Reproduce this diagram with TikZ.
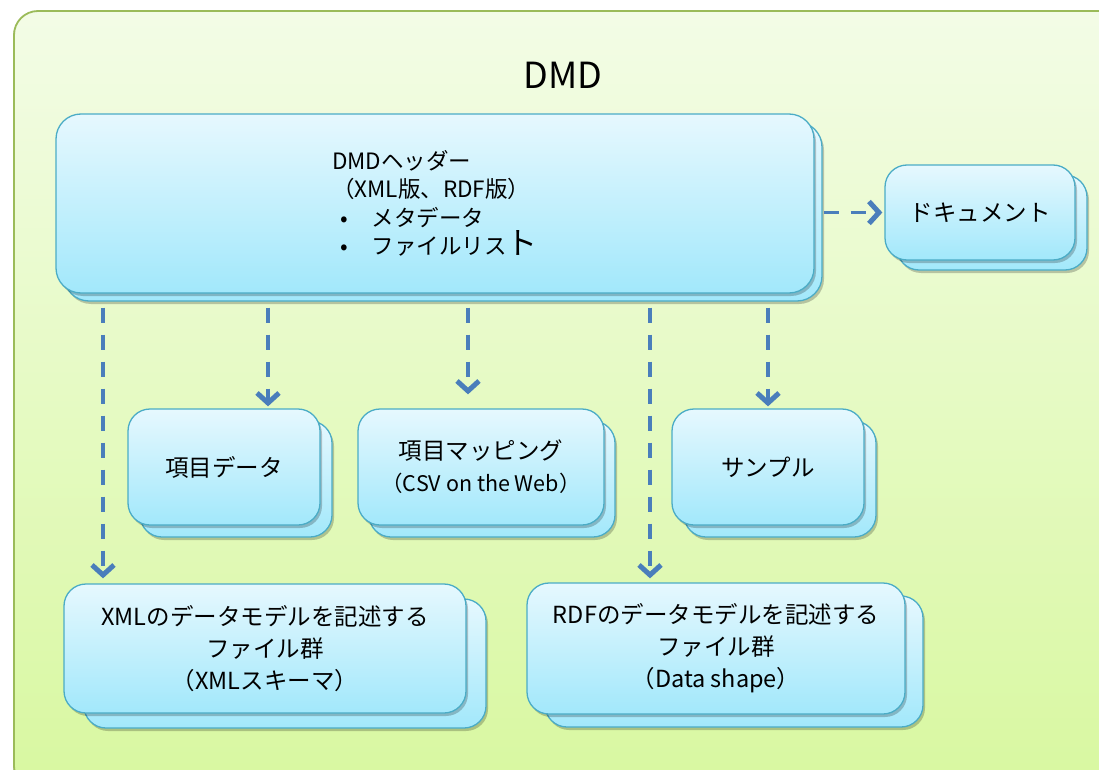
\documentclass[tikz,border=0pt]{standalone}
\usepackage{fontspec}
\setmainfont{Noto Sans CJK JP}
\usetikzlibrary{arrows.meta,shadows,calc}

\definecolor{frameline}{HTML}{9BBB59}
\definecolor{frametop}{HTML}{F3FCE6}
\definecolor{framebot}{HTML}{D8F8A0}
\definecolor{cardline}{HTML}{4BACC6}
\definecolor{cardtop}{HTML}{E6F8FE}
\definecolor{cardbot}{HTML}{A2E8FB}
\definecolor{arrowblue}{HTML}{4A7EBB}

\tikzset{
  card/.style={draw=cardline, line width=1.3pt, rounded corners=22pt,
    top color=cardtop, bottom color=cardbot, inner sep=0pt,
    drop shadow={shadow xshift=2pt, shadow yshift=-3pt, opacity=0.22, fill=black},
    text=black, align=center, font=\fontsize{23.5}{32}\selectfont},
  dep/.style={draw=arrowblue, line width=3.5pt, dash pattern=on 15pt off 12pt,
    -{Straight Barb[length=10pt,width=22pt,line width=5pt]}},
}

\begin{document}
\begin{tikzpicture}[x=1pt,y=1pt]
  \useasboundingbox (0,0) rectangle (1099,-770);
  \clip (0,0) rectangle (1099,-770);
  \fill[white] (0,0) rectangle (1099,-770);

  % outer DMD container
  \draw[frameline, line width=1.8pt, rounded corners=24pt,
        top color=frametop, bottom color=framebot,
        drop shadow={shadow xshift=-1pt, shadow yshift=-1pt, opacity=0.2, fill=black}]
    (14,-11) rectangle (1130,-790);
  \node[font=\fontsize{36}{40}\selectfont] (title) at (563,-75) {DMD};

  % header card
  \node[card, rounded corners=25pt, minimum width=758pt, minimum height=179pt]
    (hdrB) at (443,-211.5) {};
  \node[card, rounded corners=25pt, minimum width=758pt, minimum height=179pt,
        align=left, font=\fontsize{22.5}{28.5}\selectfont]
    (hdr) at (435,-203.5)
    {DMDヘッダー\\（XML版、RDF版）\\
     \hspace*{8pt}•\hspace{24pt}メタデータ\\
     \hspace*{8pt}•\hspace{24pt}ファイルリス{\fontsize{31}{28.5}\selectfont ト}};

  % document card
  \node[card, minimum width=190pt, minimum height=95pt] (docB) at (992,-222.5) {};
  \node[card, minimum width=190pt, minimum height=95pt] (doc) at (980,-212.5) {ドキュメント};

  % second row
  \node[card, minimum width=192pt, minimum height=116pt] (itemB) at (236,-479) {};
  \node[card, minimum width=192pt, minimum height=116pt] (item) at (224,-467) {項目データ};

  \node[card, minimum width=246pt, minimum height=116pt] (mapB) at (492,-479) {};
  \node[card, minimum width=246pt, minimum height=116pt] (map) at (481,-467)
    {項目マッピング\\{\fontsize{21.5}{32}\selectfont （CSV on the Web）}};

  \node[card, minimum width=192pt, minimum height=116pt] (smpB) at (780,-479) {};
  \node[card, minimum width=192pt, minimum height=116pt] (smp) at (768,-467) {サンプル};

  % third row
  \node[card, minimum width=402pt, minimum height=129pt] (xmlB) at (285,-663.5) {};
  \node[card, minimum width=402pt, minimum height=129pt] (xml) at (265,-648.5)
    {XMLのデータモデルを記述する\\ファイル群\\（XMLスキーマ）};

  \node[card, minimum width=378pt, minimum height=131pt] (rdfB) at (734,-661.5) {};
  \node[card, minimum width=378pt, minimum height=131pt] (rdf) at (716,-648.5)
    {RDFのデータモデルを記述する\\ファイル群\\（Data shape）};

  % dependency arrows
  \coordinate (c1) at (103,0);
  \coordinate (c2) at (268,0);
  \coordinate (c3) at (468,0);
  \coordinate (c4) at (650,0);
  \coordinate (c5) at (768,0);
  \draw[dep] ([yshift=-6pt]hdrB.south -| c1) -- ([yshift=5pt]xml.north -| c1);
  \draw[dep] ([yshift=-6pt]hdrB.south -| c2) -- ([yshift=2pt]item.north -| c2);
  \draw[dep] ([yshift=-6pt]hdrB.south -| c3) -- ([yshift=14pt]map.north -| c3);
  \draw[dep] ([yshift=-6pt]hdrB.south -| c4) -- ([yshift=4pt]rdf.north -| c4);
  \draw[dep] ([yshift=-6pt]hdrB.south -| c5) -- ([yshift=2pt]smp.north -| c5);
  \draw[dep] ([xshift=1pt]hdrB.east |- doc.west) -- ([xshift=-2pt]doc.west);
\end{tikzpicture}
\end{document}
